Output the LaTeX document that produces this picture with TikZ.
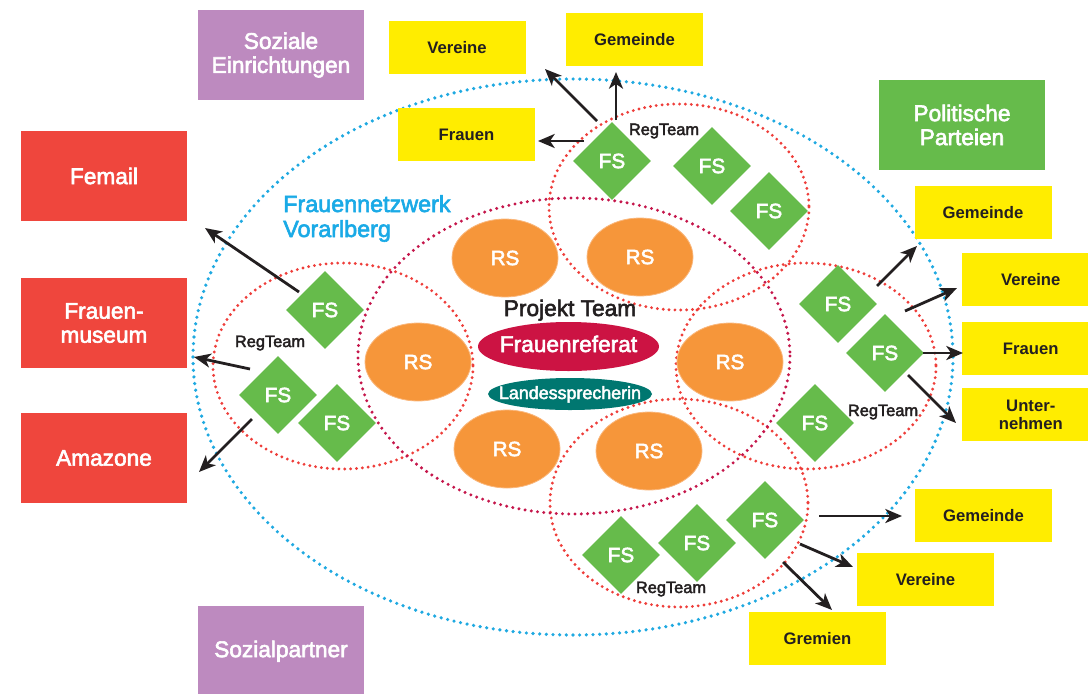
\documentclass[tikz,border=0pt]{standalone}
\usepackage{fontspec}
\setmainfont{Liberation Sans}
\newfontfamily\medfont[FakeBold=2.6]{Liberation Sans}
\usetikzlibrary{arrows.meta,shapes.geometric}
\definecolor{cpurple}{HTML}{BD8ABF}
\definecolor{cred}{HTML}{EF463D}
\definecolor{cgreen}{HTML}{66BB4B}
\definecolor{cyellow}{HTML}{FFED00}
\definecolor{corange}{HTML}{F6963A}
\definecolor{corangeb}{HTML}{FAB77C}
\definecolor{ccrimson}{HTML}{CC1343}
\definecolor{cteal}{HTML}{007770}
\definecolor{cblue}{HTML}{1FA9E1}
\definecolor{cdotred}{HTML}{EE3E3A}
\definecolor{cdotcrim}{HTML}{C5164B}
\definecolor{cdark}{HTML}{231F20}
\definecolor{cnet}{HTML}{1AAAE6}
\begin{document}
\begin{tikzpicture}[x=0.75pt,y=-0.75pt,
  bigbox/.style={rectangle, minimum width=124.5pt, minimum height=67.5pt, inner sep=0pt,
    text=white, align=center, font=\medfont\fontsize{17}{18}\selectfont},
  ybox/.style={rectangle, fill=cyellow, minimum width=102.75pt, minimum height=39.75pt,
    inner sep=0pt, text=cdark, align=center, font=\bfseries\fontsize{12.5}{13.5}\selectfont},
  fsnode/.style={diamond, fill=cgreen, minimum width=58.5pt, minimum height=58.5pt,
    inner sep=0pt, text=white, font=\medfont\fontsize{15.5}{16}\selectfont},
  rsnode/.style={ellipse, fill=corange, draw=corangeb, line width=0.6pt,
    minimum width=79.5pt, minimum height=58.5pt, inner sep=0pt, text=white,
    font=\medfont\fontsize{15.5}{16}\selectfont},
  regteam/.style={anchor=base, text=cdark, inner sep=0pt, font=\medfont\fontsize{12.3}{13}\selectfont},
  bluedots/.style={draw=cblue, line width=2.7pt, line cap=round, dash pattern=on 0pt off 5pt},
  reddots/.style={draw=cdotred, line width=2.4pt, line cap=round, dash pattern=on 0pt off 4.4pt},
  crimdots/.style={draw=cdotcrim, line width=2.5pt, line cap=round, dash pattern=on 0pt off 4.7pt},
  arr/.style={draw=cdark, line width=2.1pt, -{Stealth[length=12.5pt,width=10.5pt,inset=3.5pt]}}
]
\useasboundingbox (0,0) rectangle (1088,693);

% network ellipses
\path[bluedots] (573,357) ellipse [x radius=380, y radius=278];
\path[reddots] (343,366) ellipse [x radius=130, y radius=103];
\path[reddots] (679,207) ellipse [x radius=130, y radius=103];
\path[reddots] (806,366) ellipse [x radius=130, y radius=103];
\path[reddots] (679,503) ellipse [x radius=129, y radius=104];
\path[crimdots] (574,356) ellipse [x radius=216, y radius=158];

% RS nodes
\node[rsnode] (rs1) at (505,258) {RS};
\node[rsnode] (rs2) at (640,257) {RS};
\node[rsnode] (rs3) at (418,362) {RS};
\node[rsnode] (rs4) at (730,362) {RS};
\node[rsnode] (rs5) at (507,449) {RS};
\node[rsnode] (rs6) at (649,451) {RS};

% project team
\node[anchor=base, text=cdark, inner sep=0pt, font=\medfont\fontsize{17}{18}\selectfont] (pt) at (570,316) {Projekt Team};
\node[ellipse, fill=ccrimson, minimum width=135.75pt, minimum height=36.75pt, inner sep=0pt] (fref) at (568.5,346.5) {};
\node[anchor=base, text=white, inner sep=0pt, font=\medfont\fontsize{17}{18}\selectfont] (freftext) at (568.5,352) {Frauenreferat};
\node[ellipse, fill=cteal, minimum width=123pt, minimum height=24pt, inner sep=0pt] (lsp) at (570,394) {};
\node[anchor=base, text=white, inner sep=0pt, font=\medfont\fontsize{13.4}{14}\selectfont] (lsptext) at (570,399) {Landessprecherin};

% FS nodes
\node[fsnode] (ft1) at (612,161) {FS};
\node[fsnode] (ft2) at (712,166) {FS};
\node[fsnode] (ft3) at (769,211) {FS};
\node[fsnode] (fl1) at (325,310) {FS};
\node[fsnode] (fl2) at (278,395) {FS};
\node[fsnode] (fl3) at (337,423) {FS};
\node[fsnode] (fr1) at (838,304) {FS};
\node[fsnode] (fr2) at (885,353) {FS};
\node[fsnode] (fr3) at (815,423) {FS};
\node[fsnode] (fb1) at (621,555) {FS};
\node[fsnode] (fb2) at (697,543) {FS};
\node[fsnode] (fb3) at (765,520) {FS};

% RegTeam labels
\node[regteam] (rtT) at (664,135) {RegTeam};
\node[regteam] (rtL) at (270,347) {RegTeam};
\node[regteam] (rtR) at (883,416) {RegTeam};
\node[regteam] (rtB) at (671,593) {RegTeam};

% network title
\node[anchor=base west, text=cnet, inner sep=0pt, font=\medfont\fontsize{17.5}{18}\selectfont] (net1) at (283,212) {Frauennetzwerk};
\node[anchor=base west, text=cnet, inner sep=0pt, font=\medfont\fontsize{17.5}{18}\selectfont] (net2) at (283,237) {Vorarlberg};

% outer boxes
\node[bigbox, fill=cpurple] (soz) at (281,55) {Soziale\\Einrichtungen};
\node[bigbox, fill=cpurple, anchor=north] (sozp) at (281,606) {Sozialpartner};
\node[bigbox, fill=cred] (femail) at (104,176) {Femail};
\node[bigbox, fill=cred] (fmus) at (104,323) {Frauen-\\museum};
\node[bigbox, fill=cred] (amaz) at (104,458) {Amazone};
\node[bigbox, fill=cgreen] (pol) at (962,125) {Politische\\Parteien};

\node[ybox] (vT) at (457,47.5) {Vereine};
\node[ybox] (gT) at (634.5,39.5) {Gemeinde};
\node[ybox] (frT) at (466.5,134.5) {Frauen};
\node[ybox] (gR) at (983,212.5) {Gemeinde};
\node[ybox, anchor=west] (vR) at (962,279.5) {Vereine};
\node[ybox, anchor=west] (frR) at (962,348.5) {Frauen};
\node[ybox, anchor=west] (uR) at (962,414.5) {Unter-\\nehmen};
\node[ybox] (gB) at (983.5,515.5) {Gemeinde};
\node[ybox] (vB) at (925.5,579.5) {Vereine};
\node[ybox] (grB) at (817.5,638.5) {Gremien};

% arrow coordinates
\coordinate (sT1) at (597,121); \coordinate (eT1) at (545,69);
\coordinate (sT2) at (616,120); \coordinate (eT2) at (616,72);
\coordinate (sT3) at (584,141); \coordinate (eT3) at (538,141);
\coordinate (sL1) at (299,292); \coordinate (eL1) at (205,228);
\coordinate (sL2) at (250,369); \coordinate (eL2) at (194,357);
\coordinate (sL3) at (252,419); \coordinate (eL3) at (199,472);
\coordinate (sR1) at (877,286); \coordinate (eR1) at (917,246);
\coordinate (sR2) at (905,311); \coordinate (eR2) at (957,288);
\coordinate (sR3) at (923,353); \coordinate (eR3) at (963,353);
\coordinate (sR4) at (908,375); \coordinate (eR4) at (956,423);
\coordinate (sB1) at (819,516); \coordinate (eB1) at (902,516);
\coordinate (sB2) at (800,544); \coordinate (eB2) at (853,567);
\coordinate (sB3) at (783,562); \coordinate (eB3) at (832,610);

\foreach \a in {T1,T2,T3,L1,L2,L3,R1,R2,R3,R4,B1,B2,B3}
  \draw[arr] (s\a) -- (e\a);
\end{tikzpicture}
\end{document}
